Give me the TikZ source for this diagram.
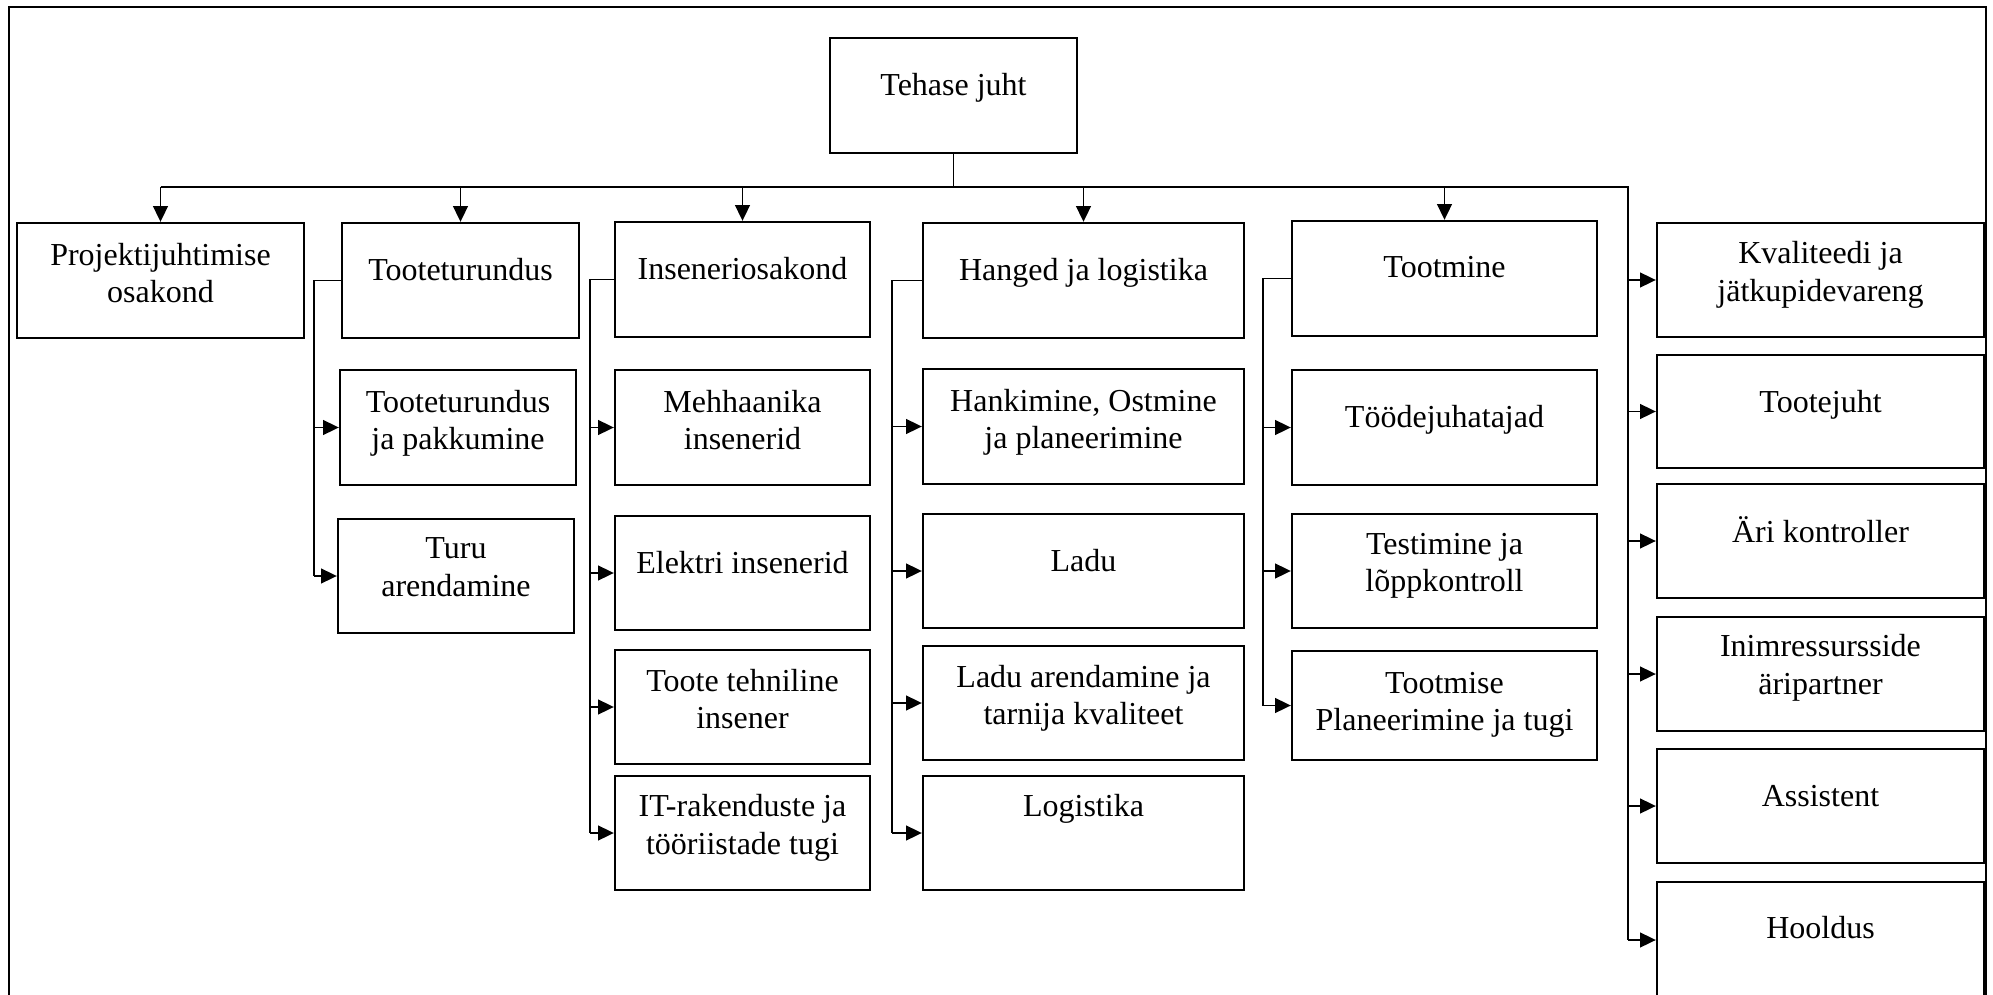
\documentclass[tikz,border=0pt]{standalone}
\usepackage{fontspec}
\setmainfont{Liberation Serif}
\usetikzlibrary{arrows.meta,fit}
\begin{document}
\begin{tikzpicture}[x=0.5pt,y=-0.5pt,
  box/.style={draw, line width=1.2pt, inner sep=0pt, rectangle},
  % a label is placed by the baseline of its last line
  lbl/.style={anchor=base, align=center, inner sep=0pt, font=\fontsize{16pt}{18.8pt}\selectfont},
  link/.style={line width=0.65pt},
  arr/.style={link, -{Triangle[length=7.8pt,width=7.4pt]}},
]
\useasboundingbox (0,0) rectangle (1993,995);
\clip (0,0) rectangle (1993,995);
\fill[white] (0,0) rectangle (1993,995);

% outer frame
\draw[line width=1.1pt] (9,1100) -- (9,7) -- (1986,7) -- (1986,1100);

% top
\node[box, fit={(830,38)(1077,153)}] (tj) {};
\node[lbl] (tj-l) at (953.5,96) {Tehase juht};

% first level
\node[box, fit={(17,223)(304,338)}] (pj) {};
\node[lbl] (pj-l) at (160.5,302.6) {Projektijuhtimise\\osakond};
\node[box, fit={(342,223)(579,338)}] (tt) {};
\node[lbl] (tt-l) at (460.5,280) {Tooteturundus};
\node[box, fit={(615,222)(870,337)}] (io) {};
\node[lbl] (io-l) at (742.5,279) {Inseneriosakond};
\node[box, fit={(923,223)(1244,338)}] (hl) {};
\node[lbl] (hl-l) at (1083.5,280) {Hanged ja logistika};
\node[box, fit={(1292,221)(1597,336)}] (tm) {};
\node[lbl] (tm-l) at (1444.5,278) {Tootmine};

% Tooteturundus
\node[box, fit={(340,370)(576,485)}] (ttp) {};
\node[lbl] (ttp-l) at (458,449.6) {Tooteturundus\\ja pakkumine};
\node[box, fit={(338,519)(574,633)}] (tur) {};
\node[lbl] (tur-l) at (456,596.1) {Turu\\arendamine};

% Inseneriosakond
\node[box, fit={(615,370)(870,485)}] (mh) {};
\node[lbl] (mh-l) at (742.5,449.6) {Mehhaanika\\insenerid};
\node[box, fit={(615,516)(870,630)}] (el) {};
\node[lbl] (el-l) at (742.5,573) {Elektri insenerid};
\node[box, fit={(615,650)(870,764)}] (tte) {};
\node[lbl] (tte-l) at (742.5,728.6) {Toote tehniline\\insener};
\node[box, fit={(615,776)(870,890)}] (it) {};
\node[lbl] (it-l) at (742.5,854.1) {IT-rakenduste ja\\tööriistade tugi};

% Hanged ja logistika
\node[box, fit={(923,369)(1244,484)}] (hk) {};
\node[lbl] (hk-l) at (1083.5,448.6) {Hankimine, Ostmine\\ja planeerimine};
\node[box, fit={(923,514)(1244,628)}] (ld) {};
\node[lbl] (ld-l) at (1083.5,571) {Ladu};
\node[box, fit={(923,646)(1244,760)}] (la) {};
\node[lbl] (la-l) at (1083.5,724.6) {Ladu arendamine ja\\tarnija kvaliteet};
\node[box, fit={(923,776)(1244,890)}] (lg) {};
\node[lbl] (lg-l) at (1083.5,816.5) {Logistika};

% Tootmine
\node[box, fit={(1292,370)(1597,485)}] (td) {};
\node[lbl] (td-l) at (1444.5,427.5) {Töödejuhatajad};
\node[box, fit={(1292,514)(1597,628)}] (te) {};
\node[lbl] (te-l) at (1444.5,591.6) {Testimine ja\\lõppkontroll};
\node[box, fit={(1292,651)(1597,760)}] (tp) {};
\node[lbl] (tp-l) at (1444.5,730.6) {Tootmise\\Planeerimine ja tugi};

% right column
\node[box, fit={(1657,223)(1984,337)}] (kv) {};
\node[lbl] (kv-l) at (1820.5,301.1) {Kvaliteedi ja\\jätkupidevareng};
\node[box, fit={(1657,355)(1984,468)}] (tjh) {};
\node[lbl] (tjh-l) at (1820.5,412) {Tootejuht};
\node[box, fit={(1657,484)(1984,598)}] (ak) {};
\node[lbl] (ak-l) at (1820.5,542.5) {Äri kontroller};
\node[box, fit={(1657,617)(1984,731)}] (ir) {};
\node[lbl] (ir-l) at (1820.5,694.1) {Inimressursside\\äripartner};
\node[box, fit={(1657,749)(1984,863)}] (as) {};
\node[lbl] (as-l) at (1820.5,806) {Assistent};
\node[box, fit={(1657,882)(1984,998)}] (ho) {};
\node[lbl] (ho-l) at (1820.5,938.5) {Hooldus};

% main bus
\coordinate (bus) at (0,187);
\coordinate (rv) at (1628,0);
\draw[link] (tj.south) -- (tj.south |- bus);
\draw[link] (pj.north |- bus) -- (rv |- bus) -- (rv |- ho.west);
\foreach \n in {pj,tt,io,hl,tm}
  \draw[arr] (\n.north |- bus) -- (\n.north);
\foreach \n in {kv,tjh,ak,ir,as,ho}
  \draw[arr] (rv |- \n.west) -- (\n.west);

% branches
\coordinate (ttx) at (314,0);
\draw[link] (tt.west) -- (tt.west -| ttx) -- (ttx |- tur.west);
\foreach \n in {ttp,tur}
  \draw[arr] (ttx |- \n.west) -- (\n.west);

\coordinate (iox) at (590,0);
\draw[link] (io.west) -- (io.west -| iox) -- (iox |- it.west);
\foreach \n in {mh,el,tte,it}
  \draw[arr] (iox |- \n.west) -- (\n.west);

\coordinate (hlx) at (892,0);
\draw[link] (hl.west) -- (hl.west -| hlx) -- (hlx |- lg.west);
\foreach \n in {hk,ld,la,lg}
  \draw[arr] (hlx |- \n.west) -- (\n.west);

\coordinate (tmx) at (1263,0);
\draw[link] (tm.west) -- (tm.west -| tmx) -- (tmx |- tp.west);
\foreach \n in {td,te,tp}
  \draw[arr] (tmx |- \n.west) -- (\n.west);
\end{tikzpicture}
\end{document}
